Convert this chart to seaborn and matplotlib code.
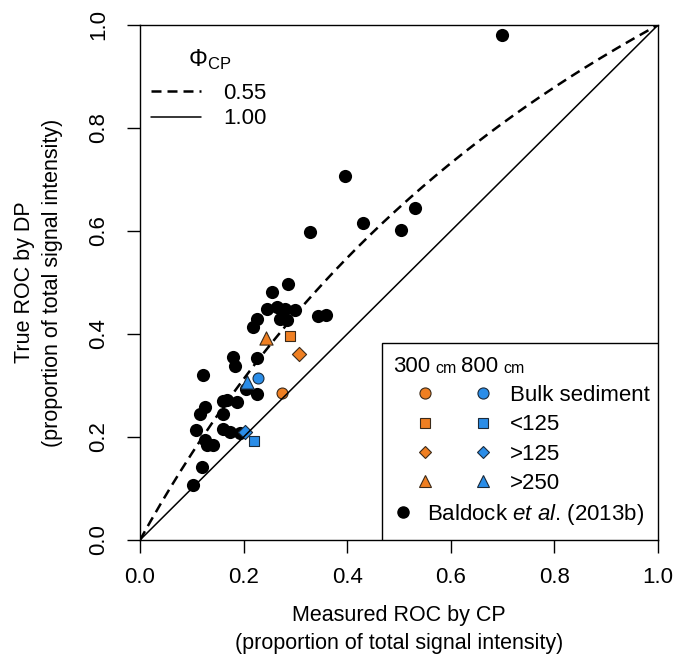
import numpy as np
import pandas as pd
import matplotlib
matplotlib.use("Agg")
import matplotlib.pyplot as plt
import seaborn as sns
from matplotlib.lines import Line2D
from matplotlib.legend_handler import HandlerTuple
from matplotlib.patches import Rectangle

# ---------------- data ----------------
baldock_x = [0.286, 0.254, 0.245, 0.264, 0.280, 0.299, 0.270, 0.283, 0.225, 0.219,
             0.344, 0.360, 0.180, 0.183, 0.225, 0.122, 0.204, 0.225, 0.187, 0.160,
             0.167, 0.125, 0.116, 0.160, 0.109, 0.160, 0.174, 0.125, 0.129, 0.141,
             0.119, 0.103, 0.193, 0.698, 0.396, 0.328, 0.431, 0.531, 0.504]
baldock_y = [0.498, 0.482, 0.448, 0.452, 0.448, 0.447, 0.430, 0.427, 0.430, 0.414,
             0.434, 0.437, 0.356, 0.337, 0.353, 0.320, 0.293, 0.284, 0.268, 0.269,
             0.272, 0.259, 0.245, 0.245, 0.214, 0.216, 0.210, 0.194, 0.185, 0.184,
             0.141, 0.106, 0.208, 0.981, 0.707, 0.599, 0.615, 0.645, 0.602]

fractions = ["Bulk sediment", "<125", ">125", ">250"]
markers = ["o", "s", "D", "^"]
x_300 = [0.275, 0.290, 0.306, 0.243]
y_300 = [0.286, 0.396, 0.361, 0.392]
x_800 = [0.227, 0.220, 0.203, 0.206]
y_800 = [0.315, 0.192, 0.209, 0.306]

depth_labels = ["300", "800"]
depth_unit = "cm"

phi_values = [0.55, 1.00]
phi_labels = ["0.55", "1.00"]
phi_styles = [(0, (4, 2.4)), "-"]
phi_widths = [1.8, 1.1]

x_ticks = [0.0, 0.2, 0.4, 0.6, 0.8, 1.0]
y_ticks = [0.0, 0.2, 0.4, 0.6, 0.8, 1.0]

ORANGE = "#EF7F22"
BLUE = "#2A8DE8"

# ---------------- style ----------------
sns.set_style("ticks")
plt.rcParams["font.family"] = ["Liberation Sans", "DejaVu Sans"]
plt.rcParams["mathtext.fontset"] = "custom"
plt.rcParams["mathtext.rm"] = "Liberation Sans"
plt.rcParams["mathtext.it"] = "Liberation Sans:italic"
plt.rcParams["mathtext.bf"] = "Liberation Sans:bold"
for k in ["text.color", "axes.labelcolor", "xtick.color", "ytick.color",
          "xtick.labelcolor", "ytick.labelcolor"]:
    plt.rcParams[k] = "black"

FS = 16      # tick labels / legend
FSL = 15.5   # axis labels

fig = plt.figure(figsize=(6.77, 6.61), dpi=100)
ax = fig.add_axes([140 / 677, 1 - 540 / 661, 518 / 677, 515 / 661])

# Baldock points
bd = pd.DataFrame({"x": baldock_x, "y": baldock_y})
sns.scatterplot(data=bd, x="x", y="y", ax=ax, color="black", s=90,
                edgecolor="black", linewidth=0, zorder=2, legend=False)

# coloured points
for i in range(4):
    d3 = pd.DataFrame({"x": [x_300[i]], "y": [y_300[i]]})
    d8 = pd.DataFrame({"x": [x_800[i]], "y": [y_800[i]]})
    s = {"o": 62, "s": 58, "D": 52, "^": 90}[markers[i]]
    sns.scatterplot(data=d3, x="x", y="y", ax=ax, marker=markers[i], color=ORANGE,
                    s=s, edgecolor="#3a2a1a", linewidth=0.8, zorder=3, legend=False)
    sns.scatterplot(data=d8, x="x", y="y", ax=ax, marker=markers[i], color=BLUE,
                    s=s, edgecolor="#1a2a3a", linewidth=0.8, zorder=3, legend=False)

# model curves
xs = np.linspace(0, 1, 201)
for phi, ls, lw in zip(phi_values, phi_styles, phi_widths):
    ys = xs / (xs + phi * (1 - xs))
    sns.lineplot(x=xs, y=ys, ax=ax, color="black", linestyle=ls, linewidth=lw,
                 zorder=4, legend=False)

# axes
ax.set_xlim(0, 1)
ax.set_ylim(0, 1)
ax.set_xticks(x_ticks)
ax.set_yticks(y_ticks)
ax.set_xticklabels([f"{t:.1f}" for t in x_ticks], fontsize=FS)
ax.set_yticklabels([f"{t:.1f}" for t in y_ticks], fontsize=FS, rotation=90, va="center")
ax.tick_params(axis="both", direction="out", length=9.5, width=1.0, color="black",
               pad=10)
ax.tick_params(axis="y", pad=13)
for sp in ax.spines.values():
    sp.set_visible(True)
    sp.set_color("black")
    sp.set_linewidth(1.0)

ax.set_xlabel("Measured ROC by CP\n(proportion of total signal intensity)",
              fontsize=FSL, linespacing=1.45, labelpad=12)
ax.set_ylabel("True ROC by DP\n(proportion of total signal intensity)",
              fontsize=FSL, linespacing=1.45, labelpad=18)

# ---------------- legend: phi ----------------
phi_handles = [Line2D([], [], color="black", linestyle=ls, linewidth=lw)
               for ls, lw in zip(phi_styles, phi_widths)]
leg1 = ax.legend(phi_handles, phi_labels, loc="upper left",
                 bbox_to_anchor=(0.022, 0.958), frameon=False, fontsize=FS,
                 title=r"$\Phi_{\mathrm{CP}}$", title_fontsize=17,
                 handlelength=2.25, handletextpad=1.0, labelspacing=0.2,
                 borderpad=0, borderaxespad=0)
leg1._legend_box.sep = 0.2 * FS + 5
ax.add_artist(leg1)

# ---------------- legend: samples ----------------
ax.add_patch(Rectangle((242 / 518, 0.0), 1 - 242 / 518, (540 - 343) / 515,
                       transform=ax.transAxes, facecolor="white", edgecolor="black",
                       linewidth=1.0, zorder=5))

hdr_y = (540 - 372) / 515
t = ax.text((393 - 140) / 518, hdr_y, depth_labels[0], transform=ax.transAxes,
            fontsize=FS, va="baseline", ha="left", zorder=6)
t = ax.annotate(depth_unit, xy=(1, 0), xycoords=t, xytext=(3.5, 0.8),
                textcoords="offset points", fontsize=11.5, va="bottom", ha="left",
                zorder=6)
t = ax.annotate(depth_labels[1], xy=(1, 0), xycoords=t, xytext=(3.5, -0.8),
                textcoords="offset points", fontsize=FS, va="bottom", ha="left",
                zorder=6)
t = ax.annotate(depth_unit, xy=(1, 0), xycoords=t, xytext=(3.5, 0.8),
                textcoords="offset points", fontsize=11.5, va="bottom", ha="left",
                zorder=6)

msizes = {"o": 8, "s": 7, "D": 6.5, "^": 9}
pair_handles = []
for m in markers:
    h3 = Line2D([], [], linestyle="none", marker=m, markersize=msizes[m],
                markerfacecolor=ORANGE, markeredgecolor="#3a2a1a", markeredgewidth=0.8)
    h8 = Line2D([], [], linestyle="none", marker=m, markersize=msizes[m],
                markerfacecolor=BLUE, markeredgecolor="#1a2a3a", markeredgewidth=0.8)
    pair_handles.append((h3, h8))
leg2 = ax.legend(pair_handles, fractions, loc="upper left",
                 bbox_to_anchor=((404.7 - 140) / 518, (540 - 385) / 515),
                 frameon=False, fontsize=FS,
                 handler_map={tuple: HandlerTuple(ndivide=None, pad=0.78)},
                 handlelength=4.44, handletextpad=0.3, labelspacing=0.375,
                 borderpad=0, borderaxespad=0)
leg2.set_zorder(7)
ax.add_artist(leg2)

bh = Line2D([], [], linestyle="none", marker="o", markersize=8,
            markerfacecolor="black", markeredgecolor="black")
leg3 = ax.legend([bh], [r"Baldock $\it{et\ al}$. (2013b)"], loc="upper left",
                 bbox_to_anchor=((392 - 140) / 518, (540 - 502) / 515),
                 frameon=False, fontsize=FS, handlelength=1.0, handletextpad=0.59,
                 borderpad=0, borderaxespad=0)
leg3.set_zorder(7)

fig.savefig("out.png", dpi=100)
